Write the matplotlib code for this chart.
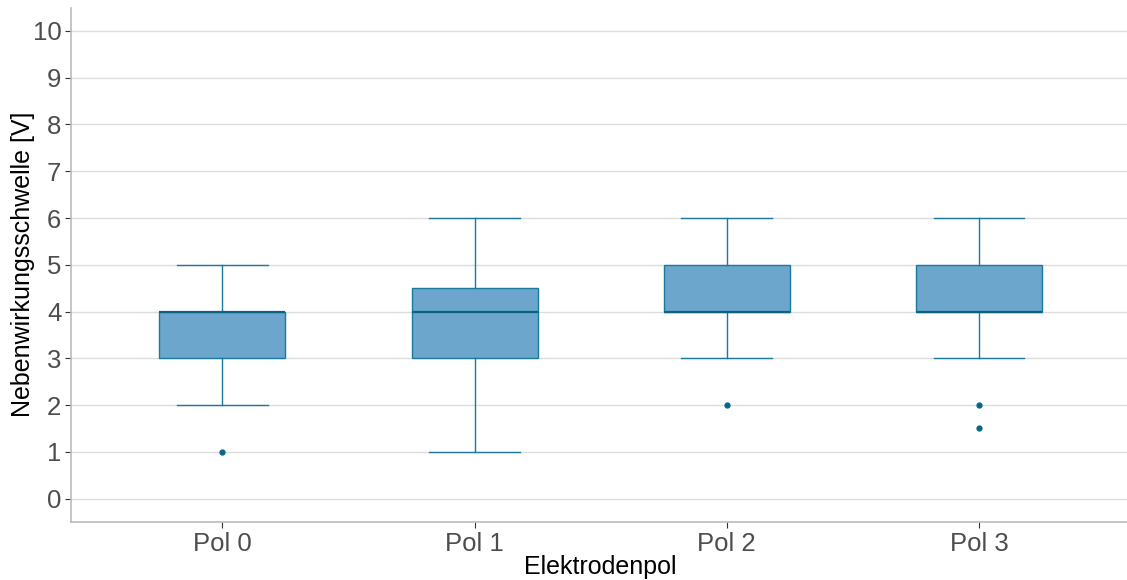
import matplotlib
matplotlib.use("Agg")
import matplotlib.pyplot as plt

# values
poles = ["Pol 0", "Pol 1", "Pol 2", "Pol 3"]
whisker_low = [2, 1, 3, 3]
q1 = [3, 3, 4, 4]
median = [4, 4, 4, 4]
q3 = [4, 4.5, 5, 5]
whisker_high = [5, 6, 6, 6]
outliers = [[1], [], [2], [2, 1.5]]

plt.rcParams["font.family"] = ["Liberation Sans", "DejaVu Sans"]

stats = []
for i, name in enumerate(poles):
    stats.append({"label": name, "whislo": whisker_low[i], "q1": q1[i],
                  "med": median[i], "q3": q3[i], "whishi": whisker_high[i],
                  "fliers": outliers[i]})

fig = plt.figure(figsize=(11.27, 5.8), dpi=100)
ax = fig.add_axes([0.063, 0.1, 0.94, 0.887])

edge = "#1a7a9c"
ax.bxp(stats, positions=range(len(poles)), widths=0.5, patch_artist=True,
       boxprops=dict(facecolor="#6ca6cd", edgecolor=edge, linewidth=1.0),
       medianprops=dict(color="#0d6283", linewidth=1.6),
       whiskerprops=dict(color=edge, linewidth=1.0),
       capprops=dict(color=edge, linewidth=1.0), capwidths=0.36,
       flierprops=dict(marker="o", markersize=3.5, markerfacecolor="#0a6688",
                       markeredgecolor="#0a6688"),
       zorder=3)

ax.set_xlim(-0.6, 3.6)
ax.set_ylim(-0.5, 10.5)
ax.set_yticks(range(0, 11))
ax.grid(axis="y", color="#dcdcdc", linewidth=1.0, zorder=0)
ax.set_axisbelow(True)

for s in ["top", "right"]:
    ax.spines[s].set_visible(False)
for s in ["left", "bottom"]:
    ax.spines[s].set_color("#bbbbbb")
    ax.spines[s].set_linewidth(1.2)

ax.tick_params(axis="both", labelsize=18.5, colors="#4d4d4d", length=4, width=0.8)
ax.tick_params(axis="both", which="both", color="#333333")
ax.tick_params(axis="y", pad=3)
ax.set_xlabel("Elektrodenpol", fontsize=18, labelpad=-1)
ax.set_ylabel("Nebenwirkungsschwelle [V]", fontsize=18, labelpad=-2)

fig.savefig("out.png", dpi=100)
